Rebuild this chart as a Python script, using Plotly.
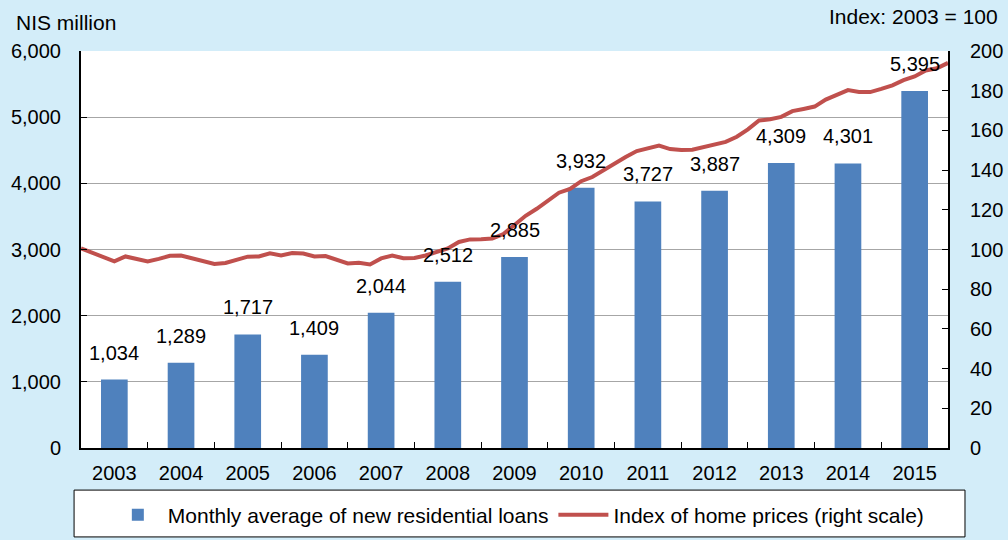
import plotly.graph_objects as go

years = [2003, 2004, 2005, 2006, 2007, 2008, 2009, 2010, 2011, 2012, 2013, 2014, 2015]
loans = [1034, 1289, 1717, 1409, 2044, 2512, 2885, 3932, 3727, 3887, 4309, 4301, 5395]

# Home price index (2003 = 100), read every two months from Jan 2003 to Dec 2015
price_months = list(range(0, 157, 2))
price_index = [
    100.6, 98.5, 96.0, 94.0, 96.5, 95.0, 94.0, 95.3, 96.8, 97.0,
    95.5, 93.8, 92.7, 93.2, 95.0, 96.4, 96.5, 98.1, 97.0, 98.2,
    98.0, 96.5, 96.7, 94.7, 93.0, 93.3, 92.5, 95.5, 97.0, 95.6,
    95.7, 97.0, 98.7, 100.5, 103.8, 105.1, 105.2, 105.5, 107.8, 112.5,
    117.0, 120.5, 124.6, 128.6, 130.5, 134.4, 136.5, 140.0, 143.3, 146.6,
    149.6, 151.2, 152.3, 150.6, 150.1, 150.3, 151.5, 152.7, 154.2, 156.8,
    160.5, 165.0, 165.6, 166.8, 169.7, 170.8, 172.0, 175.5, 178.0, 180.3,
    179.4, 179.3, 180.9, 182.7, 185.3, 187.2, 190.2, 191.3, 194.0,
]
price_x = [years[0] - 0.5 + m / 12 for m in price_months]

left_ticks = [0, 1000, 2000, 3000, 4000, 5000, 6000]
right_ticks = [0, 20, 40, 60, 80, 100, 120, 140, 160, 180, 200]

BAR = "#4F81BD"
LINE = "#C0504D"
BG = "#D3EDF9"
FONT = "Liberation Sans, Arial, sans-serif"
FS = 20

fig = go.Figure()
fig.add_trace(go.Bar(
    x=years, y=loans, name="Monthly average of new residential loans",
    marker=dict(color=BAR, line=dict(width=0)),
))
fig.add_trace(go.Scatter(
    x=price_x, y=price_index, name="Index of home prices (right scale)",
    yaxis="y2", mode="lines", line=dict(color=LINE, width=4),
))

bar_labels = [
    dict(x=yr, y=v, xref="x", yref="y", text=f"{v:,}", showarrow=False,
         yanchor="bottom", yshift=14, font=dict(size=FS, color="black"))
    for yr, v in zip(years, loans)
]

fig.update_layout(
    width=1008, height=540,
    paper_bgcolor=BG, plot_bgcolor="white",
    margin=dict(l=81, r=60, t=51, b=92, autoexpand=False),
    font=dict(family=FONT, size=FS, color="black"),
    bargap=0.6,
    showlegend=True,
    legend=dict(
        orientation="h", x=0.505, xanchor="center",
        yref="container", y=0.046, yanchor="middle",
        bgcolor="rgba(0,0,0,0)", font=dict(size=21, family=FONT),
        itemwidth=50, traceorder="normal",
    ),
    xaxis=dict(
        range=[years[0] - 0.5, years[-1] + 0.5],
        tickvals=years, ticktext=[str(y) for y in years],
        ticks="", showgrid=False, zeroline=False,
        showline=True, linecolor="black", linewidth=2,
        tickfont=dict(size=FS), ticklabelstandoff=6,
        minor=dict(tickvals=[y + 0.5 for y in years[:-1]], ticks="inside",
                   ticklen=6, tickcolor="black", tickwidth=1, showgrid=False),
    ),
    yaxis=dict(
        range=[0, 6000], tickvals=left_ticks,
        tickformat=",", ticks="inside", ticklen=6, tickcolor="black",
        showgrid=True, gridcolor="#A6A6A6", gridwidth=1, zeroline=False,
        showline=True, linecolor="black", linewidth=2,
        tickfont=dict(size=FS), ticklabelstandoff=14,
    ),
    yaxis2=dict(
        range=[0, 200], tickvals=right_ticks, overlaying="y", side="right",
        ticks="inside", ticklen=6, tickcolor="black",
        showgrid=False, zeroline=False,
        showline=True, linecolor="black", linewidth=2,
        tickfont=dict(size=FS), ticklabelstandoff=16,
    ),
    shapes=[dict(type="rect", xref="paper", yref="paper",
                 x0=-0.008, x1=1.0196, y0=-0.224, y1=-0.106,
                 line=dict(color="black", width=1), fillcolor="white", layer="below")],
    annotations=bar_labels + [
        dict(text="NIS million", xref="paper", yref="paper", x=-0.077, y=1.073,
             xanchor="left", yanchor="middle", showarrow=False, font=dict(size=21)),
        dict(text="Index: 2003 = 100", xref="paper", yref="paper", x=1.06, y=1.086,
             xanchor="right", yanchor="middle", showarrow=False, font=dict(size=21)),
    ],
)

fig.write_html("out.html")
